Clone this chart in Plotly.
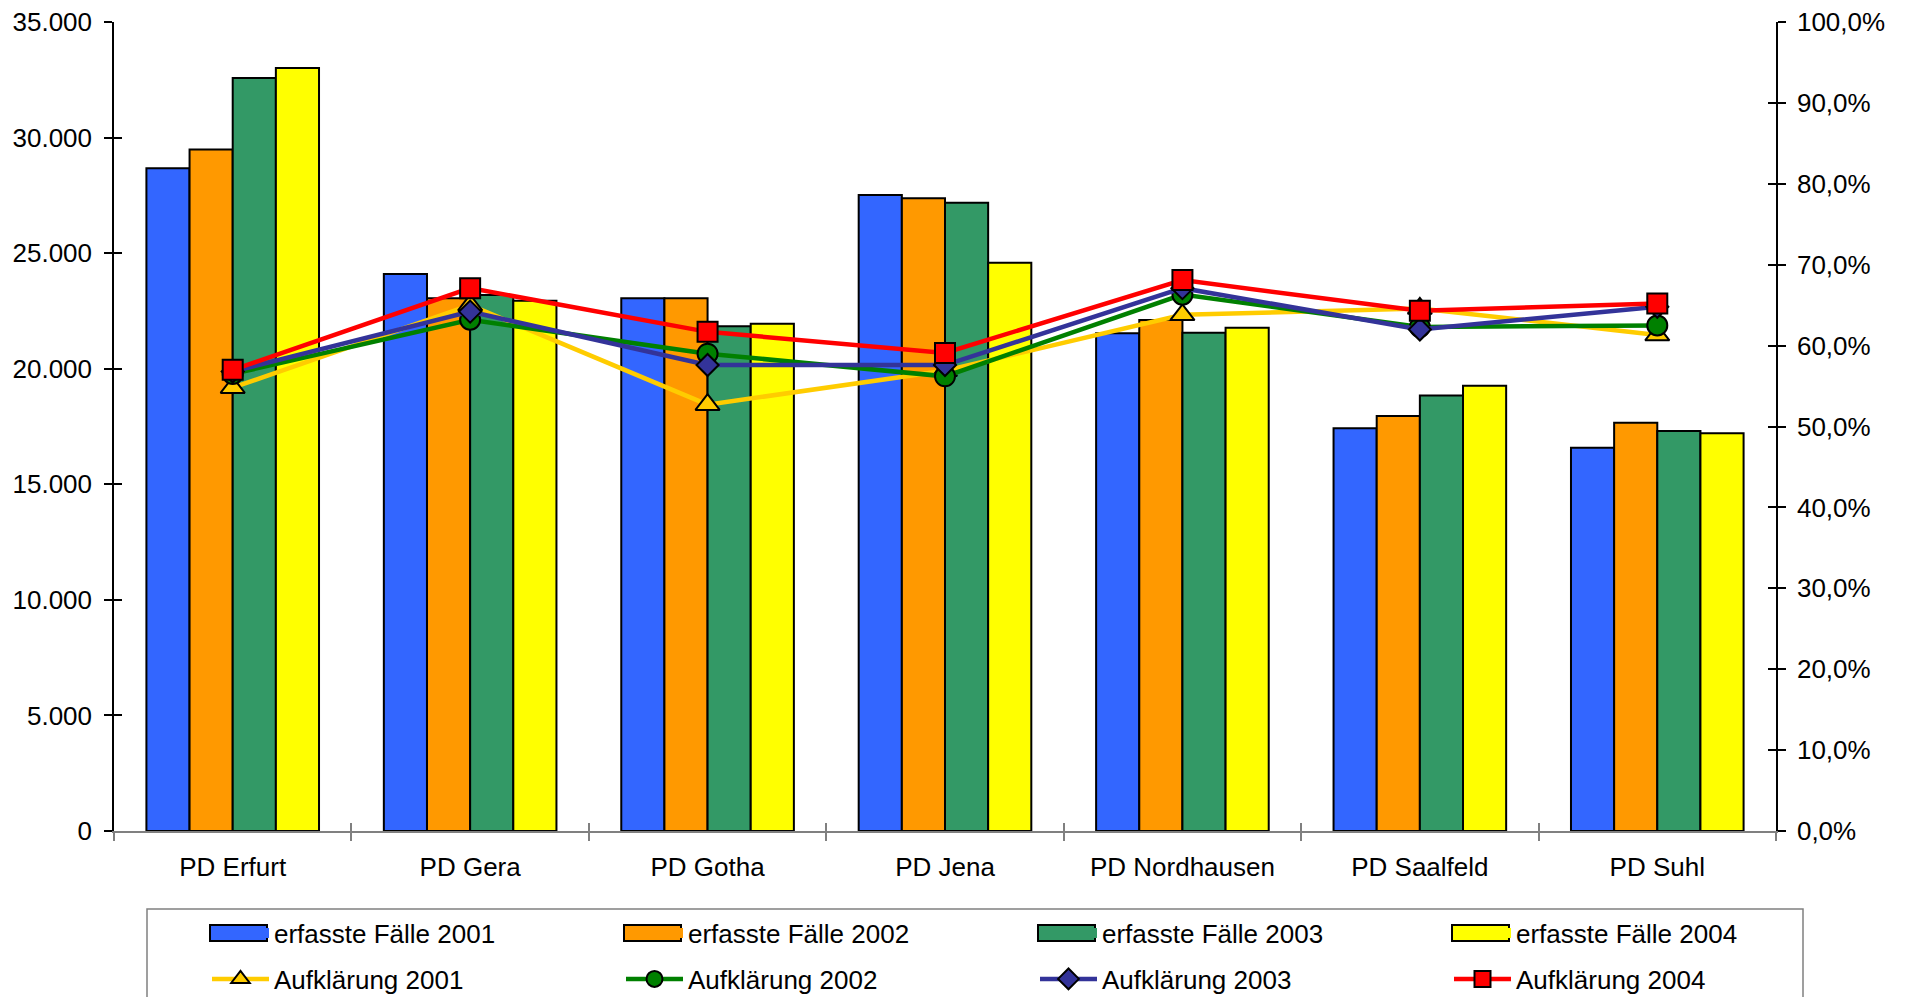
import plotly.graph_objects as go

categories = ["PD Erfurt", "PD Gera", "PD Gotha", "PD Jena", "PD Nordhausen", "PD Saalfeld", "PD Suhl"]

faelle_2001 = [28670, 24100, 23050, 27515, 21530, 17420, 16580]
faelle_2002 = [29480, 23045, 23050, 27372, 22107, 17950, 17662]
faelle_2003 = [32577, 23188, 21842, 27182, 21560, 18842, 17305]
faelle_2004 = [33010, 22943, 21947, 24586, 21775, 19263, 17210]

aufkl_2001 = [0.548, 0.650, 0.527, 0.569, 0.638, 0.646, 0.613]
aufkl_2002 = [0.565, 0.632, 0.590, 0.562, 0.663, 0.623, 0.625]
aufkl_2003 = [0.568, 0.642, 0.576, 0.576, 0.671, 0.620, 0.648]
aufkl_2004 = [0.570, 0.671, 0.617, 0.591, 0.681, 0.643, 0.652]

bar_names = ["erfasste Fälle 2001", "erfasste Fälle 2002", "erfasste Fälle 2003", "erfasste Fälle 2004"]
line_names = ["Aufklärung 2001", "Aufklärung 2002", "Aufklärung 2003", "Aufklärung 2004"]

left_ticks = [0, 5000, 10000, 15000, 20000, 25000, 30000, 35000]
right_ticks = [0, 0.1, 0.2, 0.3, 0.4, 0.5, 0.6, 0.7, 0.8, 0.9, 1.0]

bar_colors = ["#3366FF", "#FF9900", "#339966", "#FFFF00"]
line_colors = ["#FFCC00", "#008000", "#333399", "#FF0000"]
symbols = ["triangle-up", "circle", "diamond", "square"]
msizes = [21, 20, 17, 20]

W, H = 1908, 997
OFF = 8  # page body margin
L, R, T, B = 114, 1776, 22, 831   # plot area in page pixels
pw, ph = R - L, B - T

LEG_X0, LEG_COL, LEG_SYM_W = 210, 414, 57   # legend layout (page pixels)
LEG_ROW1, LEG_ROW2, LEG_SYM_H = 933, 979, 16


def px(x):
    return (x - L) / pw


def py(y):
    return (B - y) / ph


FONT = "Arial, Liberation Sans, sans-serif"

fig = go.Figure()

for name, vals, col in zip(bar_names, [faelle_2001, faelle_2002, faelle_2003, faelle_2004], bar_colors):
    fig.add_trace(go.Bar(
        x=categories, y=vals, name=name, showlegend=False,
        marker=dict(color=col, line=dict(color="black", width=2)),
    ))

for name, vals, col, sym, ms in zip(line_names, [aufkl_2001, aufkl_2002, aufkl_2003, aufkl_2004],
                                     line_colors, symbols, msizes):
    fig.add_trace(go.Scatter(
        x=categories, y=vals, name=name, yaxis="y2",
        mode="lines+markers",
        line=dict(color=col, width=4.5),
        marker=dict(symbol=sym, size=ms, color=col, line=dict(color="black", width=2)),
        legend="legend2",
    ))

# legend entries for the bar series (wide colour swatches like the original)
for name, col in zip(bar_names, bar_colors):
    fig.add_trace(go.Scatter(
        x=[None], y=[None], name=name, mode="lines",
        line=dict(color=col, width=LEG_SYM_H), legend="legend", hoverinfo="skip",
    ))

# dummy traces to show overlay axes (inside tick halves)
fig.add_trace(go.Scatter(x=[None], y=[None], xaxis="x2", yaxis="y", showlegend=False, hoverinfo="skip"))
fig.add_trace(go.Scatter(x=[None], y=[None], xaxis="x", yaxis="y3", showlegend=False, hoverinfo="skip"))
fig.add_trace(go.Scatter(x=[None], y=[None], xaxis="x", yaxis="y4", showlegend=False, hoverinfo="skip"))

tickfont = dict(family=FONT, size=26, color="black")

shapes = [dict(
    type="rect", xref="paper", yref="paper",
    x0=px(147), x1=px(1803), y0=py(1030), y1=py(909),
    line=dict(color="#808080", width=1.5), fillcolor="rgba(0,0,0,0)",
)]
for i, col in enumerate(bar_colors):
    x0 = LEG_X0 + i * LEG_COL
    shapes.append(dict(
        type="rect", xref="paper", yref="paper", layer="above",
        x0=px(x0), x1=px(x0 + LEG_SYM_W),
        y0=py(LEG_ROW1 + LEG_SYM_H / 2), y1=py(LEG_ROW1 - LEG_SYM_H / 2),
        line=dict(color="black", width=2), fillcolor=col,
    ))

fig.update_layout(
    width=W, height=H,
    margin=dict(l=L - OFF, r=W - (R - OFF), t=T - OFF, b=H - (B - OFF), autoexpand=False),
    paper_bgcolor="white", plot_bgcolor="white",
    separators=",.",
    barmode="group", bargap=0.273, bargroupgap=0,
    font=dict(family=FONT, size=26, color="black"),
    xaxis=dict(
        type="category", categoryorder="array", categoryarray=categories,
        range=[-0.5, 6.5], showgrid=False,
        showline=True, linecolor="#808080", linewidth=1.5,
        ticks="outside", ticklen=8, tickcolor="#808080", tickwidth=1.5,
        tickson="boundaries", tickfont=tickfont, ticklabelstandoff=12,
        ticklabeloverflow="allow",
    ),
    xaxis2=dict(
        overlaying="x", anchor="y", range=[-0.5, 6.5],
        tickvals=[-0.5, 0.5, 1.5, 2.5, 3.5, 4.5, 5.5, 6.5],
        ticks="inside", ticklen=8, tickcolor="#808080", tickwidth=1.5,
        showticklabels=False, showline=False, showgrid=False, zeroline=False,
    ),
    yaxis=dict(
        range=[0, 35000], tickvals=left_ticks, tickformat=",.0f",
        showgrid=False, zeroline=False,
        showline=True, linecolor="black", linewidth=1.5,
        ticks="outside", ticklen=8, tickcolor="black", tickwidth=1.5,
        tickfont=tickfont, ticklabelstandoff=7, ticklabeloverflow="allow",
    ),
    yaxis2=dict(
        range=[0, 1], tickvals=right_ticks, tickformat=".1%",
        overlaying="y", side="right", anchor="x",
        showgrid=False, zeroline=False,
        showline=True, linecolor="black", linewidth=1.5,
        ticks="outside", ticklen=8, tickcolor="black", tickwidth=1.5,
        tickfont=tickfont, ticklabelstandoff=6, ticklabeloverflow="allow",
    ),
    yaxis3=dict(
        range=[0, 35000], tickvals=left_ticks, overlaying="y", side="left", anchor="x",
        ticks="inside", ticklen=8, tickcolor="black", tickwidth=1.5,
        showticklabels=False, showline=False, showgrid=False, zeroline=False,
    ),
    yaxis4=dict(
        range=[0, 1], tickvals=right_ticks, overlaying="y", side="right", anchor="x",
        ticks="inside", ticklen=8, tickcolor="black", tickwidth=1.5,
        showticklabels=False, showline=False, showgrid=False, zeroline=False,
    ),
    legend=dict(
        orientation="h", x=px(207), xanchor="left", y=py(LEG_ROW1), yanchor="middle",
        entrywidth=342, entrywidthmode="pixels", itemwidth=57,
        font=dict(family=FONT, size=26, color="black"),
        bgcolor="rgba(0,0,0,0)", borderwidth=0, traceorder="normal",
    ),
    legend2=dict(
        orientation="h", x=px(207), xanchor="left", y=py(LEG_ROW2), yanchor="middle",
        entrywidth=342, entrywidthmode="pixels", itemwidth=57,
        font=dict(family=FONT, size=26, color="black"),
        bgcolor="rgba(0,0,0,0)", borderwidth=0, traceorder="normal",
    ),
    shapes=shapes,
    showlegend=True,
)

fig.write_html("out.html")
